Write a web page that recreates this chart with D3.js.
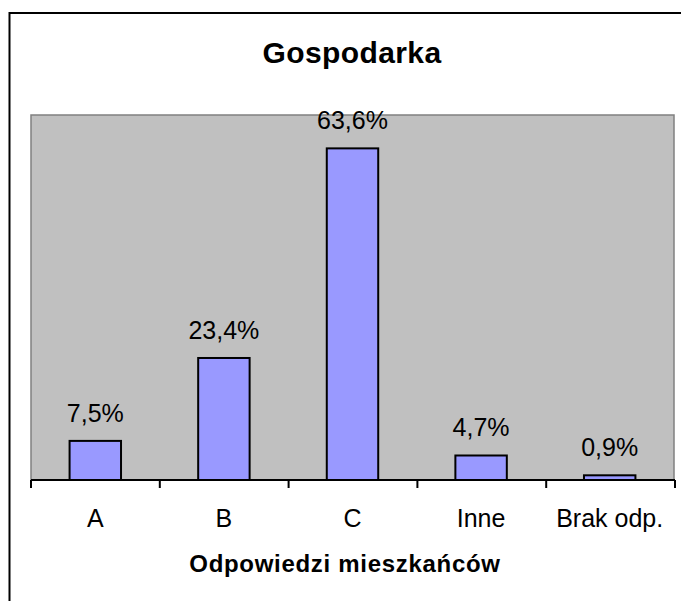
<!DOCTYPE html>
<html>
<head>
<meta charset="utf-8">
<script src="https://cdn.jsdelivr.net/npm/d3@7"></script>
<style>
  body { margin: 0; background: #fff; }
  svg { display: block; font-family: "Liberation Sans", Arial, sans-serif; }
</style>
</head>
<body>
<svg id="chart"></svg>
<script>
const categories = ['A', 'B', 'C', 'Inne', 'Brak odp.'];
const values = [7.5, 23.4, 63.6, 4.7, 0.9];
const labels = ['7,5%', '23,4%', '63,6%', '4,7%', '0,9%'];

const W = 681, H = 601;
const plot = { left: 31, right: 674, top: 115, bottom: 480 };

const svg = d3.select('#chart')
  .attr('width', W)
  .attr('height', H);

// outer frame (right and bottom edges fall outside the picture)
svg.append('rect')
  .attr('x', 9.5).attr('y', 13)
  .attr('width', 700).attr('height', 620)
  .attr('fill', '#fff')
  .attr('stroke', '#000')
  .attr('stroke-width', 2);

const x = d3.scaleBand()
  .domain(categories)
  .range([plot.left, plot.right])
  .paddingInner(0.6)
  .paddingOuter(0.3);

const y = d3.scaleLinear()
  .domain([0, 70])
  .range([plot.bottom, plot.top]);

// plot area
svg.append('rect')
  .attr('x', plot.left).attr('y', plot.top)
  .attr('width', plot.right - plot.left)
  .attr('height', plot.bottom - plot.top)
  .attr('fill', '#c0c0c0')
  .attr('stroke', '#808080')
  .attr('stroke-width', 1.5);

svg.append('text')
  .attr('x', 352).attr('y', 63)
  .attr('text-anchor', 'middle')
  .attr('font-size', 30)
  .attr('font-weight', 'bold')
  .attr('letter-spacing', 0.4)
  .text('Gospodarka');

svg.selectAll('rect.bar')
  .data(values)
  .enter()
  .append('rect')
  .attr('class', 'bar')
  .attr('x', (d, i) => x(categories[i]))
  .attr('y', d => y(d))
  .attr('width', x.bandwidth())
  .attr('height', d => y(0) - y(d))
  .attr('fill', '#9999ff')
  .attr('stroke', '#000')
  .attr('stroke-width', 2);

svg.selectAll('text.val')
  .data(values)
  .enter()
  .append('text')
  .attr('class', 'val')
  .attr('x', (d, i) => x(categories[i]) + x.bandwidth() / 2)
  .attr('y', d => y(d) - 19)
  .attr('text-anchor', 'middle')
  .attr('font-size', 25)
  .text((d, i) => labels[i]);

// x axis with ticks between categories
const axisG = svg.append('g')
  .attr('transform', `translate(0,${plot.bottom})`);

axisG.append('line')
  .attr('x1', plot.left).attr('x2', plot.right + 1)
  .attr('stroke', '#000')
  .attr('stroke-width', 2);

const tickPos = d3.range(categories.length + 1).map(i => plot.left + i * (plot.right + 1 - plot.left) / categories.length);
axisG.selectAll('line.tick')
  .data(tickPos)
  .enter()
  .append('line')
  .attr('class', 'tick')
  .attr('x1', d => d).attr('x2', d => d)
  .attr('y1', 0).attr('y2', 8)
  .attr('stroke', '#000')
  .attr('stroke-width', 2);

axisG.selectAll('text.cat')
  .data(categories)
  .enter()
  .append('text')
  .attr('class', 'cat')
  .attr('x', d => x(d) + x.bandwidth() / 2)
  .attr('y', 47)
  .attr('text-anchor', 'middle')
  .attr('font-size', 25)
  .text(d => d);

svg.append('text')
  .attr('x', 345).attr('y', 572)
  .attr('text-anchor', 'middle')
  .attr('font-size', 24)
  .attr('font-weight', 'bold')
  .attr('letter-spacing', 0.7)
  .text('Odpowiedzi mieszkańców');
</script>
</body>
</html>
